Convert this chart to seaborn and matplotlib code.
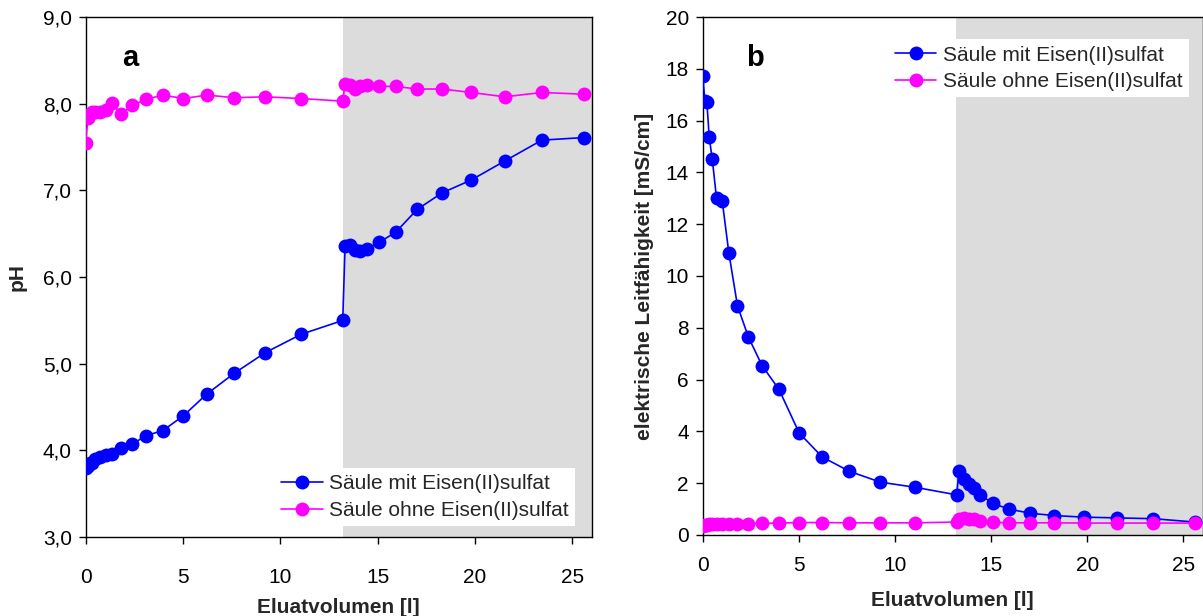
import numpy as np
import pandas as pd
import matplotlib
matplotlib.use("Agg")
import matplotlib.pyplot as plt
from matplotlib.ticker import FuncFormatter, MultipleLocator
import seaborn as sns

# Eluate volume [l] at each sampling point
volume = [0.0, 0.12, 0.22, 0.34, 0.5, 0.72, 1.02, 1.36, 1.81, 2.38, 3.09, 3.97,
          5.02, 6.22, 7.63, 9.24, 11.07, 13.21, 13.33, 13.59, 13.85, 14.1, 14.45,
          15.08, 15.94, 17.03, 18.3, 19.81, 21.54, 23.44, 25.6]

# pH
ph_mit = [3.80, 3.82, 3.85, 3.86, 3.90, 3.93, 3.95, 3.96, 4.03, 4.07, 4.17, 4.23,
          4.40, 4.65, 4.89, 5.13, 5.34, 5.50, 6.36, 6.37, 6.31, 6.30, 6.33,
          6.40, 6.52, 6.78, 6.97, 7.12, 7.34, 7.58, 7.61]
ph_ohne = [7.55, 7.84, 7.88, 7.91, 7.91, 7.91, 7.93, 8.01, 7.88, 7.98, 8.05, 8.10,
           8.06, 8.10, 8.07, 8.08, 8.06, 8.03, 8.23, 8.22, 8.17, 8.20, 8.22,
           8.20, 8.20, 8.17, 8.17, 8.13, 8.08, 8.13, 8.11]

# Electrical conductivity [mS/cm]
lf_mit = [17.74, 16.74, 16.70, 15.36, 14.51, 13.00, 12.88, 10.90, 8.85, 7.64, 6.54, 5.62,
          3.94, 3.01, 2.46, 2.04, 1.84, 1.55, 2.46, 2.17, 1.98, 1.83, 1.55,
          1.22, 1.00, 0.84, 0.75, 0.69, 0.66, 0.63, 0.50]
lf_ohne = [0.33, 0.38, 0.40, 0.42, 0.44, 0.44, 0.44, 0.43, 0.44, 0.44, 0.45, 0.46,
           0.48, 0.48, 0.47, 0.47, 0.47, 0.50, 0.60, 0.66, 0.63, 0.60, 0.53,
           0.49, 0.47, 0.47, 0.47, 0.46, 0.46, 0.46, 0.46]

series_names = ["Säule mit Eisen(II)sulfat", "Säule ohne Eisen(II)sulfat"]
palette = {series_names[0]: "#0000FF", series_names[1]: "#FF00FF"}
phase_start = 13.2
x_max = 26

ph_df = pd.DataFrame({
    "volume": volume * 2,
    "value": ph_mit + ph_ohne,
    "series": [series_names[0]] * len(volume) + [series_names[1]] * len(volume),
})
lf_df = pd.DataFrame({
    "volume": volume * 2,
    "value": lf_mit + lf_ohne,
    "series": [series_names[0]] * len(volume) + [series_names[1]] * len(volume),
})

sns.set_theme(style="ticks")
plt.rcParams["font.family"] = ["Liberation Sans", "DejaVu Sans"]
plt.rcParams["axes.linewidth"] = 1.0

FS = 15

fig = plt.figure(figsize=(12.03, 6.16), dpi=100)
ax_a = fig.add_axes([0.0712, 0.128, 0.4206, 0.8443])
ax_b = fig.add_axes([0.5841, 0.1315, 0.4155, 0.8409])

def draw_panel(ax, df, ylim, ystep, fmt, xpad, xlabelpad):
    ax.axvspan(phase_start, x_max, color="#DCDCDC", lw=0, zorder=0)
    sns.lineplot(data=df, x="volume", y="value", hue="series", palette=palette,
                 hue_order=series_names, marker="o", markersize=10,
                 markeredgewidth=0, linewidth=1.2, sort=False, ax=ax, zorder=3)
    ax.set_xlim(0, x_max)
    ax.set_ylim(*ylim)
    ax.xaxis.set_major_locator(MultipleLocator(5))
    ax.yaxis.set_major_locator(MultipleLocator(ystep))
    ax.yaxis.set_major_formatter(FuncFormatter(fmt))
    ax.tick_params(axis="both", which="major", direction="out", length=5,
                   width=1, labelsize=FS, colors="black")
    ax.tick_params(axis="x", pad=xpad)
    ax.tick_params(axis="y", pad=5)
    for sp in ax.spines.values():
        sp.set_color("black")
        sp.set_linewidth(1.0)
        sp.set_visible(True)
    ax.set_xlabel("Eluatvolumen [l]", fontsize=FS, fontweight="bold",
                  labelpad=xlabelpad)

draw_panel(ax_a, ph_df, (3, 9), 1, lambda v, p: f"{v:.1f}".replace(".", ","),
           xpad=17, xlabelpad=8)
draw_panel(ax_b, lf_df, (0, 20), 2, lambda v, p: f"{v:.0f}",
           xpad=10, xlabelpad=12)

ax_a.set_ylabel("pH", fontsize=FS, fontweight="bold", labelpad=12)
ax_b.set_ylabel("elektrische Leitfähigkeit [mS/cm]", fontsize=FS,
                fontweight="bold", labelpad=8)

ax_a.text(0.088, 0.921, "a", transform=ax_a.transAxes, fontsize=21,
          fontweight="bold", ha="center", va="center", color="black")
ax_b.text(0.104, 0.921, "b", transform=ax_b.transAxes, fontsize=21,
          fontweight="bold", ha="center", va="center", color="black")

leg_kw = dict(title=None, fontsize=FS, frameon=True, facecolor="white",
              edgecolor="none", framealpha=1, fancybox=False, handlelength=2.0,
              handletextpad=0.3, borderpad=0.3, labelspacing=0.37,
              borderaxespad=0, markerscale=1.0)
ax_a.legend(loc="lower right", bbox_to_anchor=(0.967, 0.021), **leg_kw)
ax_b.legend(loc="upper right", bbox_to_anchor=(0.972, 0.957), **leg_kw)
for ax in (ax_a, ax_b):
    ax.get_legend().set_zorder(5)

fig.savefig("out.png", dpi=100)
